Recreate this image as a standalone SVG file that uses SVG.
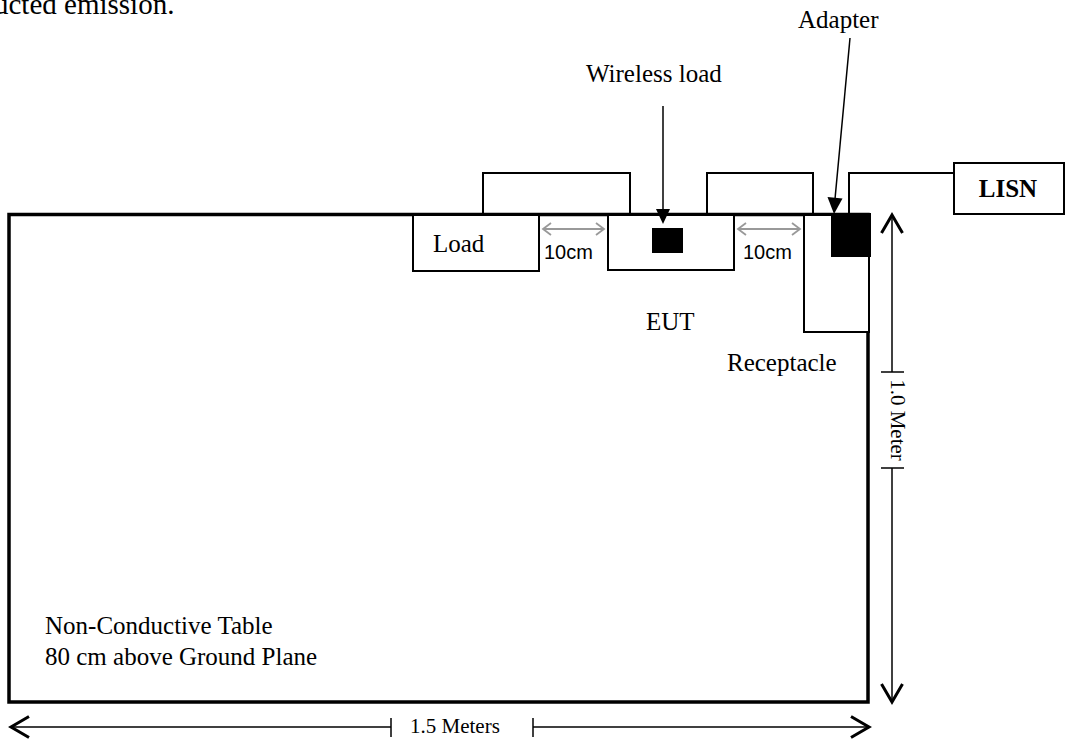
<svg xmlns="http://www.w3.org/2000/svg" width="1065" height="740" viewBox="0 0 1065 740">
<style>
.t{font-family:"Liberation Serif","Times New Roman",serif;font-size:25px;fill:#000}
.a{font-family:"Liberation Sans",Arial,sans-serif;font-size:20px;fill:#000}
.box{fill:#fff;stroke:#000;stroke-width:2}
.cable{fill:none;stroke:#000;stroke-width:2}
.blk{fill:#000}
.ln{fill:none;stroke:#000;stroke-width:1.5}
.gray{fill:none;stroke:#999;stroke-width:1.8}
.chev{fill:none;stroke:#000;stroke-width:3;stroke-linejoin:miter}
.gchev{fill:none;stroke:#999;stroke-width:1.8}
</style>
<rect width="1065" height="740" fill="#fff"/>
<text class="t" x="-6" y="14" style="font-size:29px">ucted emission.</text>

<g id="table">
<rect x="9" y="214.5" width="859" height="487.5" fill="#fff" stroke="#000" stroke-width="3.5"/>
<text class="t" x="45" y="634">Non-Conductive Table</text>
<text class="t" x="45" y="665">80 cm above Ground Plane</text>
</g>

<g id="cables">
<polyline class="cable" points="483,213 483,173 630,173 630,213"/>
<polyline class="cable" points="707,213 707,173 813,173 813,213"/>
<polyline class="cable" points="849,213 849,173 954,173"/>
</g>

<g id="load">
<rect class="box" x="413" y="215" width="126" height="56"/>
<text class="t" x="433" y="252">Load</text>
</g>

<g id="eut">
<rect class="box" x="608" y="215" width="126" height="55"/>
<rect class="blk" x="652" y="228" width="31" height="25"/>
<text class="t" x="646" y="330">EUT</text>
</g>

<g id="receptacle">
<rect class="box" x="804" y="215" width="65" height="117"/>
<text class="t" x="727" y="371">Receptacle</text>
</g>

<g id="adapter">
<rect class="blk" x="831" y="213" width="40" height="44"/>
<text class="t" x="798" y="28">Adapter</text>
</g>

<g id="lisn">
<rect class="box" x="954" y="163" width="110" height="51"/>
<text class="t" x="1008" y="197" text-anchor="middle" font-weight="bold">LISN</text>
</g>

<g id="wireless-label">
<text class="t" x="586" y="82">Wireless load</text>
</g>

<g id="connectors">
<line class="ln" x1="663" y1="106" x2="663" y2="210"/>
<polygon class="blk" points="656,209 670,209 663,224"/>
<line class="ln" x1="850" y1="38" x2="835" y2="199"/>
<polygon class="blk" points="827.5,197 842.5,198.5 834,214"/>

<line class="gray" x1="543" y1="229" x2="604" y2="229"/>
<polyline class="gchev" points="551,223 543,229 551,235"/>
<polyline class="gchev" points="596,223 604,229 596,235"/>
<text class="a" x="544" y="259">10cm</text>
<line class="gray" x1="738" y1="229" x2="800" y2="229"/>
<polyline class="gchev" points="746,223 738,229 746,235"/>
<polyline class="gchev" points="792,223 800,229 792,235"/>
<text class="a" x="743" y="259">10cm</text>

<line class="ln" x1="892" y1="216" x2="892" y2="372"/>
<line class="ln" x1="881" y1="372" x2="904" y2="372"/>
<line class="ln" x1="881" y1="468" x2="904" y2="468"/>
<line class="ln" x1="892" y1="468" x2="892" y2="701"/>
<polyline class="chev" points="881.5,233 892,215 902.5,233"/>
<polyline class="chev" points="881.5,684 892,702 902.5,684"/>
<text class="t" transform="translate(891,420) rotate(90)" text-anchor="middle" style="font-size:21px">1.0 Meter</text>

<line class="ln" x1="12" y1="727" x2="391" y2="727"/>
<line class="ln" x1="391" y1="718" x2="391" y2="737"/>
<line class="ln" x1="533" y1="718" x2="533" y2="737"/>
<line class="ln" x1="533" y1="727" x2="867" y2="727"/>
<polyline class="chev" points="29,716.5 11,727 29,737.5"/>
<polyline class="chev" points="851,716.5 869,727 851,737.5"/>
<text class="t" x="410" y="733" style="font-size:21px">1.5 Meters</text>
</g>
</svg>
